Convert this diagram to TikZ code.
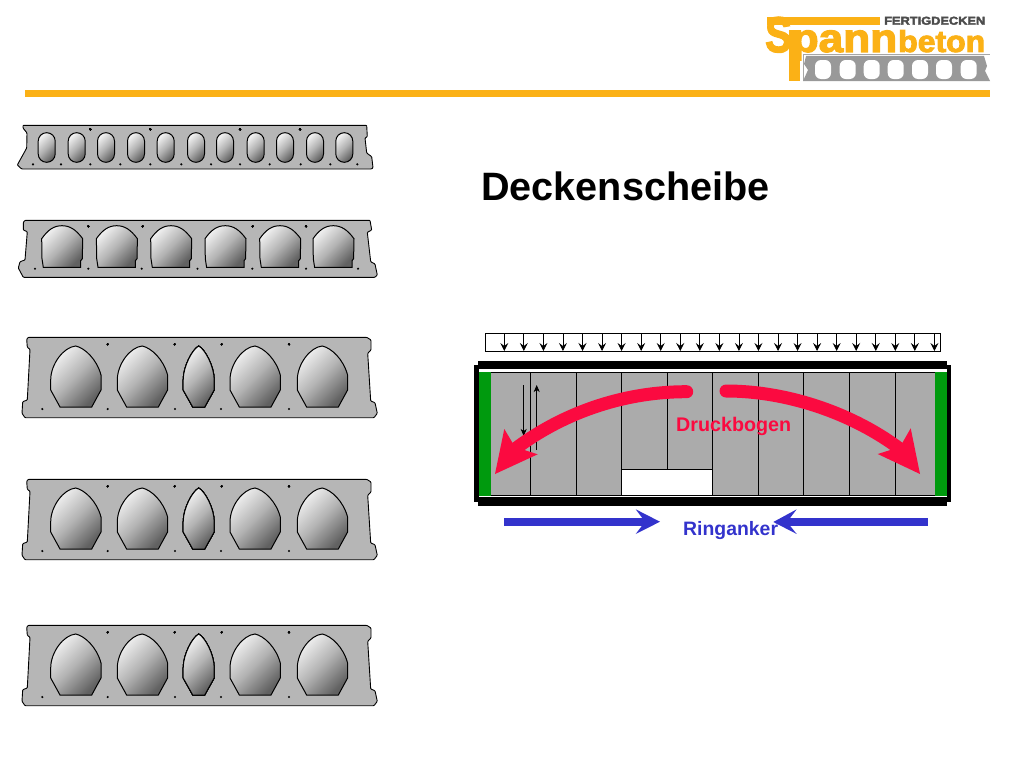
\documentclass[tikz,border=0pt]{standalone}
\usepackage{fontspec}
\setmainfont{Liberation Sans}
\newfontfamily\logofont[FakeBold=3]{Liberation Sans}
\usetikzlibrary{arrows.meta}
\definecolor{slabgrey}{HTML}{B6B6B6}
\definecolor{logoorange}{HTML}{FBB116}
\definecolor{fieldgrey}{HTML}{ABABAB}
\definecolor{edgegreen}{HTML}{009A0E}
\definecolor{archred}{HTML}{FB0A40}
\definecolor{ankerblue}{HTML}{3333CC}
\tikzset{
	slab/.style={draw=black, line width=0.9pt, fill=slabgrey, rounded corners=0.8pt},
	hollow/.style={draw=black, line width=1pt, top color=black!6, bottom color=black!62, middle color=black!30, shading angle=45},
	strand/.style={fill=black},
	loadarrow/.style={line width=0.8pt, -{Stealth[length=8pt,width=8pt,inset=3pt]}},
	shear/.style={line width=0.9pt, -{Stealth[length=7pt,width=6pt,inset=2pt]}}
}
\def\roundcore(#1,#2){\draw[hollow, rounded corners=8.4pt] (#1-8.5,#2) rectangle (#1+8.5,#2+29.6);}
\def\archcore(#1,#2){\draw[hollow, shift={(#1,#2)}] (-18.7,41.6) -- (-20,33) -- (-20.3,13) .. controls (-14,4) and (-8,0) .. (0,0) .. controls (8,0) and (14,4) .. (20.7,13) -- (20.3,33) -- (18.7,35) -- (18.7,41.6) -- cycle;}
\def\eggcore(#1,#2){\draw[hollow, shift={(#1,#2)}] (0,0) .. controls (9,2) and (21,13) .. (25.3,29) -- (25.3,44) -- (16,61) -- (-15.7,61) -- (-25,44) -- (-25,34) .. controls (-25,18) and (-12,1) .. (0,0) -- cycle;}
\def\narrowcore(#1,#2){\draw[hollow, shift={(#1,#2)}] (0,0) .. controls (6,3) and (15.5,20) .. (15.5,34) -- (15.5,44) -- (6,61) -- (-6,61) -- (-15.5,44) -- (-15.5,34) .. controls (-15.5,20) and (-6,3) .. (0,0) -- cycle;}

\begin{document}
\begin{tikzpicture}[x=1pt, y=-1pt]
	\useasboundingbox (0,0) rectangle (1024,768);
	%%%%% START %%%%%

	% logo
	\draw[line width=0.5pt, color=black!35] (803,81) -- (803,54.5) -- (990,54.5);
	\fill[color=black!40] (806,56) -- (984,56) -- (987,66) -- (985,71) -- (990,81) -- (803,81) -- (808,70) -- (804,64) -- cycle;
	\foreach \xlogo in {823,847.7,871.7,895.7,920,944,968.7}
		\fill[white, rounded corners=6pt] (\xlogo-8,60) rectangle (\xlogo+8,79);
	\fill[color=logoorange] (767,17) rectangle (880,25);
	\fill[color=logoorange] (789.3,30) rectangle (800,81);
	\node[anchor=base west, inner sep=0pt, color=logoorange] (logospann) at (765,52) {\resizebox{132pt}{35pt}{\raisebox{0pt}[\height][0pt]{\logofont\bfseries\fontsize{30}{30}\selectfont\scalebox{.72}[1]{S}\fontsize{24}{24}\selectfont pann}}};
	\node[anchor=base west, inner sep=0pt, color=logoorange] (logobeton) at (898,52) {\resizebox{87pt}{22pt}{\logofont\bfseries\fontsize{20}{20}\selectfont beton}};
	\node[anchor=south west, inner sep=0pt, color=black!70] (logofertig) at (884,25) {\resizebox{101pt}{8pt}{\logofont\bfseries\fontsize{9}{9}\selectfont FERTIGDECKEN}};
	\fill[color=logoorange] (25,90) rectangle (990,97);

	% deck units
	\draw[slab] (23,125.3) -- (23,128) -- (27,133) -- (26.7,148) -- (17.3,165) -- (21.7,169) -- (371.7,169) -- (373,167.7) -- (371.7,156.7) -- (366.7,153) -- (365,138) -- (367.3,136.7) -- (366.7,125.3) -- cycle;
	\foreach \xcore in {46.7,76.7,106,136,165.7,196,225,255.7,285,315,344.3}
		\roundcore(\xcore,132.7)
	\foreach \xdot in {90.3,150.3,240,300}
		\fill[strand] (\xdot,129.3) circle (1.2);
	\foreach \xdot in {33,61,90.3,120.3,150.3,181.3,211,240,269.7,300.7,330.3,357.3}
		\fill[strand] (\xdot,164.3) circle (1.2);

	\draw[slab] (25,220.3) -- (23.3,222.3) -- (23.3,230) -- (27.3,231.7) -- (25,260) -- (20,261.7) -- (18.3,268) -- (23.3,277.3) -- (375,277.3) -- (377.3,275) -- (375,264) -- (370.7,261.7) -- (367.3,232.3) -- (371.7,230) -- (370,220.3) -- cycle;
	\foreach \xcore in {62,116.7,171,225.3,280,333.3}
		\archcore(\xcore,225.7)
	\foreach \xdot in {88.3,142.7,252.7,306}
		\fill[strand] (\xdot,226.3) circle (1.2);
	\foreach \xdot in {35,88.3,141.7,197.5,252.3,306,358}
		\fill[strand] (\xdot,268.7) circle (1.2);

	\foreach \yshift in {0,142,288}{
		\draw[slab] (28.3,337.3+\yshift) -- (26.7,339.3+\yshift) -- (27.3,347.3+\yshift) -- (30,349.3+\yshift) -- (27.3,400+\yshift) -- (22.7,401.7+\yshift) -- (22,413.3+\yshift) -- (25,417.7+\yshift) -- (374,417.7+\yshift) -- (377.3,413.3+\yshift) -- (375,402.7+\yshift) -- (370.7,401+\yshift) -- (367.7,353.3+\yshift) -- (371,350+\yshift) -- (371,340+\yshift) -- (366.7,337.3+\yshift) -- cycle;
		\foreach \xcore in {75.7,142.3,255,322.3}
			\eggcore(\xcore,346+\yshift)
		\narrowcore(198.7,346+\yshift)
		\foreach \xdot in {107.7,174.7,221.7,289}
			\fill[strand] (\xdot,344.3+\yshift) circle (1.2);
		\foreach \xdot in {42.3,107.7,175,221,289}
			\fill[strand] (\xdot,409+\yshift) circle (1.2);
	}

	% title
	\node[anchor=base west, inner sep=0pt] (title) at (481,200) {\fontsize{39.6}{42}\selectfont\bfseries Deckenscheibe};

	% load strip
	\draw[line width=0.9pt] (485,333) rectangle (940,351.7);
	\foreach \i in {0,...,22}
		\draw[loadarrow] (504.3+\i*19.55,333) -- (504.3+\i*19.55,351);

	% deck field
	\fill[color=fieldgrey] (490,372) rectangle (935,495);
	\draw[fill=white, line width=1pt] (621.7,469.7) rectangle (712.7,495);
	\foreach \xline in {530,576,621.7,712.7,758.3,803.7,849.7,895.3}
		\draw[line width=1pt] (\xline,372) -- (\xline,495);
	\draw[line width=1pt] (667,372) -- (667,469.7);
	\draw[line width=1pt] (490,372) -- (935,372);
	\draw[line width=1pt] (490,495) -- (935,495);
	\fill[color=edgegreen] (479,371.7) rectangle (490.7,495.7);
	\fill[color=edgegreen] (935,371.7) rectangle (946.7,495.7);
	\fill[black] (478.3,361) rectangle (947.3,369.3);
	\fill[black] (478.3,497) rectangle (947.3,506);
	\fill[black] (474.3,365) rectangle (479,501.7);
	\fill[black] (947.3,365) rectangle (951,501.7);

	% shear pair
	\draw[shear] (523.7,385) -- (523.7,436);
	\draw[shear] (536.7,450) -- (536.7,385);

	% compression arch
	\node[anchor=base west, inner sep=0pt, color=archred] (druck) at (676,431) {\fontsize{19.7}{22}\selectfont\bfseries Druckbogen};
	\draw[line width=13pt, color=archred, line cap=round] (686.7,391.7) .. controls (620,391.7) and (560,415) .. (515,449);
	\fill[color=archred] (495,474) -- (504.3,429) -- (515,447) -- (537.7,454.3) -- cycle;
	\draw[line width=13pt, color=archred, line cap=round] (726,391) .. controls (790,391) and (855,415) .. (900,449);
	\fill[color=archred] (920,474) -- (910.7,428.3) -- (900,447) -- (877.7,454) -- cycle;

	% ring anchor
	\node[anchor=base west, inner sep=0pt, color=ankerblue] (ring) at (683,535) {\fontsize{19.4}{22}\selectfont\bfseries Ringanker};
	\fill[color=ankerblue] (504.3,517.5) rectangle (646,526);
	\fill[color=ankerblue] (660,521.7) -- (635.7,509.3) -- (645,521.7) -- (635.7,534) -- cycle;
	\fill[color=ankerblue] (787,517.5) rectangle (927.7,526);
	\fill[color=ankerblue] (773.3,522) -- (796.7,509.3) -- (787,522) -- (796.7,534) -- cycle;

	%%%%% END %%%%%
\end{tikzpicture}
\end{document}
